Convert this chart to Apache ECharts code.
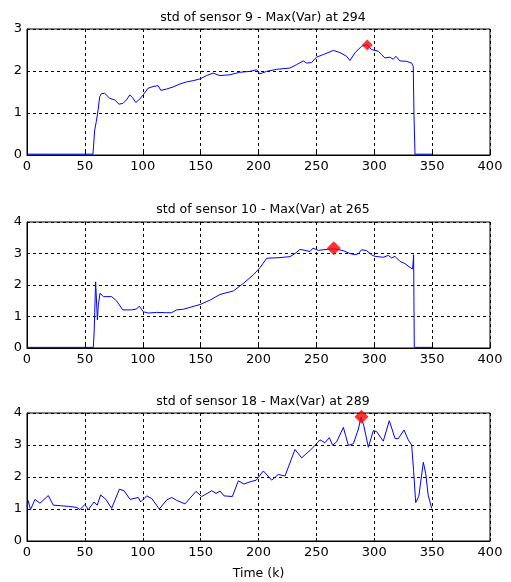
<!DOCTYPE html>
<html>
<head>
<meta charset="utf-8">
<title>std of sensors</title>
<script src="https://cdn.jsdelivr.net/npm/echarts@6/dist/echarts.min.js"></script>
<style>
  html, body { margin: 0; padding: 0; background: #fff; }
  #chart { width: 511px; height: 582px; }
</style>
</head>
<body>
<div id="chart"></div>
<script>
// x ticks shared by all panels
var timeTicks = [0, 50, 100, 150, 200, 250, 300, 350, 400];

// sensor 9
var s9Time = [0, 57, 58.5, 59.9, 61.4, 62.8, 64.3, 67.1, 71.5, 75.8, 79.5, 83, 85.9, 88.8, 91.1, 94, 97.4, 100.3, 104.6, 108.9, 113.3, 115.6, 120.5, 126.2, 132, 137.8, 143.5, 149.3, 155, 160.8, 166.6, 175.2, 183.9, 192.5, 198.3, 201.2, 206.9, 215.6, 227.1, 232.9, 238.6, 241.5, 245.8, 250.1, 255.9, 264.6, 270.3, 276.1, 279, 283.3, 289, 293.4, 297.7, 303.5, 306.3, 309.2, 313.5, 316.4, 318.7, 322.2, 328, 332.3, 333.7, 334.3, 335.2, 350];
var s9Std = [0.02, 0.02, 0.6, 0.8, 1.07, 1.39, 1.46, 1.47, 1.35, 1.31, 1.21, 1.23, 1.31, 1.43, 1.37, 1.25, 1.33, 1.43, 1.59, 1.63, 1.65, 1.54, 1.57, 1.62, 1.69, 1.74, 1.77, 1.81, 1.89, 1.95, 1.89, 1.91, 1.97, 1.99, 2.03, 1.93, 1.99, 2.04, 2.07, 2.15, 2.24, 2.19, 2.2, 2.33, 2.39, 2.49, 2.44, 2.35, 2.25, 2.43, 2.59, 2.63, 2.51, 2.47, 2.39, 2.31, 2.33, 2.28, 2.35, 2.24, 2.23, 2.19, 2.11, 1.0, 0.02, 0.02];
var s9Max = [294, 2.62];

// sensor 10
var s10Time = [0, 57.3, 58, 59.3, 60.8, 61.6, 63.1, 66, 73.2, 77.5, 82.7, 90.4, 94.7, 97, 100.5, 104.8, 112, 120.6, 124.9, 129.3, 135, 140.8, 149.5, 158.1, 166.7, 178.2, 186.9, 195.5, 201.3, 207.1, 218.6, 227.2, 231.5, 235.9, 240.2, 244.5, 247, 251.6, 253, 261.7, 265, 273.2, 279, 283.3, 286.2, 289, 293.4, 297.7, 300.6, 307.8, 312.1, 315, 317.9, 322.2, 326.5, 330.8, 333.1, 333.7, 334, 334.3, 334.6, 350];
var s10Std = [0.02, 0.02, 0.5, 2.1, 0.89, 1.36, 1.74, 1.63, 1.63, 1.49, 1.21, 1.21, 1.24, 1.33, 1.15, 1.11, 1.13, 1.12, 1.12, 1.21, 1.23, 1.29, 1.38, 1.52, 1.7, 1.81, 2.05, 2.32, 2.55, 2.85, 2.87, 2.9, 3.0, 3.13, 3.1, 3.06, 3.17, 3.1, 3.15, 3.14, 3.15, 3.09, 3.0, 2.96, 2.99, 3.12, 3.09, 2.96, 2.91, 2.88, 2.94, 2.86, 2.91, 2.75, 2.68, 2.56, 2.51, 2.78, 2.96, 1.48, 0.02, 0.02];
var s10Max = [265, 3.17];

// sensor 18
var s18Time = [0, 1, 3, 6.9, 11.2, 18.4, 22.7, 30, 36, 42.9, 45.7, 50, 53, 57.9, 60.7, 63.6, 68.2, 73.1, 79.8, 83.9, 89, 96.2, 98.2, 103.4, 107.7, 114.3, 120.6, 125, 129.3, 136.5, 146, 150.9, 159.6, 163.3, 166.8, 170.2, 177.4, 182.6, 187.5, 192.7, 198, 204.2, 211.4, 217.1, 222.9, 231.5, 237.3, 246, 253.1, 257.4, 261.2, 264.1, 267.5, 273.3, 277.6, 282, 286.3, 288.6, 291, 294.9, 299.2, 302, 307.8, 313, 318, 320.8, 325.7, 329.4, 332.3, 334, 335.8, 338.5, 342.4, 344.5, 346.5, 349.6];
var s18Std = [1.07, 1.26, 0.98, 1.3, 1.18, 1.42, 1.12, 1.1, 1.08, 1.05, 0.98, 1.14, 0.98, 1.22, 1.12, 1.44, 1.3, 1.02, 1.62, 1.57, 1.3, 1.36, 1.22, 1.41, 1.33, 1.0, 1.28, 1.36, 1.27, 1.16, 1.55, 1.39, 1.57, 1.49, 1.56, 1.41, 1.39, 1.88, 1.78, 1.85, 1.9, 2.19, 1.9, 2.08, 2.03, 2.86, 2.6, 2.88, 3.16, 3.07, 3.23, 2.99, 3.1, 3.55, 2.99, 3.04, 3.5, 3.87, 3.6, 2.93, 3.45, 3.42, 3.12, 3.76, 3.2, 3.2, 3.47, 3.16, 3.0, 2.2, 1.2, 1.4, 2.46, 2.1, 1.45, 1.02];
var s18Max = [289, 3.88];

function pairs(xs, ys) {
  return xs.map(function (x, i) { return [x, ys[i]]; });
}

var font = 'DejaVu Sans, Arial, sans-serif';
var plotTops = [29, 222, 413];
var plotHeights = [126, 126, 128];
var yMaxes = [3, 4, 4];
var titles = ['std of sensor 9 - Max(Var) at 294', 'std of sensor 10 - Max(Var) at 265', 'std of sensor 18 - Max(Var) at 289'];
var titleTops = [6, 198, 390];

var grids = [], xAxes = [], yAxes = [], titleList = [];
for (var i = 0; i < 3; i++) {
  grids.push({
    left: 27, right: 21, top: plotTops[i], height: plotHeights[i],
    show: true, borderColor: '#000', borderWidth: 1, backgroundColor: '#fff'
  });
  xAxes.push({
    type: 'value', gridIndex: i, min: 0, max: 400, interval: 50,
    name: i === 2 ? 'Time (k)' : '', nameLocation: 'middle', nameGap: 26,
    nameTextStyle: { color: '#000', fontSize: 12.5, fontFamily: font },
    axisLine: { show: true, lineStyle: { color: '#000', width: 1 } },
    axisTick: { show: true, inside: true, length: 3, lineStyle: { color: '#000' } },
    axisLabel: { color: '#000', fontSize: 13, fontFamily: font, margin: 5 },
    splitLine: { show: true, lineStyle: { color: '#000', width: 1, type: [3, 3] } }
  });
  yAxes.push({
    type: 'value', gridIndex: i, min: 0, max: yMaxes[i], interval: 1,
    axisLine: { show: true, lineStyle: { color: '#000', width: 1 } },
    axisTick: { show: true, inside: true, length: 3, lineStyle: { color: '#000' } },
    axisLabel: { color: '#000', fontSize: 13, fontFamily: font, margin: 5 },
    splitLine: { show: true, lineStyle: { color: '#000', width: 1, type: [3, 3] } }
  });
  titleList.push({
    text: titles[i], left: 258, top: titleTops[i], textAlign: 'center',
    textStyle: { color: '#000', fontSize: 12.5, fontWeight: 'normal', fontFamily: font }
  });
}

function lineSeries(idx, xs, ys) {
  return {
    type: 'line', xAxisIndex: idx, yAxisIndex: idx, data: pairs(xs, ys),
    showSymbol: false, symbol: 'none', animation: false,
    lineStyle: { color: '#0000ff', width: 1 }
  };
}
function maxSeries(idx, pt, size) {
  return {
    type: 'scatter', xAxisIndex: idx, yAxisIndex: idx, data: [pt],
    symbol: 'diamond', symbolSize: size, animation: false,
    itemStyle: { color: '#ff0000' }, z: 5
  };
}

var chart = echarts.init(document.getElementById('chart'));
chart.setOption({
  backgroundColor: '#fff',
  animation: false,
  title: titleList,
  grid: grids,
  xAxis: xAxes,
  yAxis: yAxes,
  series: [
    lineSeries(0, s9Time, s9Std),
    maxSeries(0, s9Max, 11),
    lineSeries(1, s10Time, s10Std),
    maxSeries(1, s10Max, 14),
    lineSeries(2, s18Time, s18Std),
    maxSeries(2, s18Max, 14)
  ]
});
</script>
</body>
</html>
